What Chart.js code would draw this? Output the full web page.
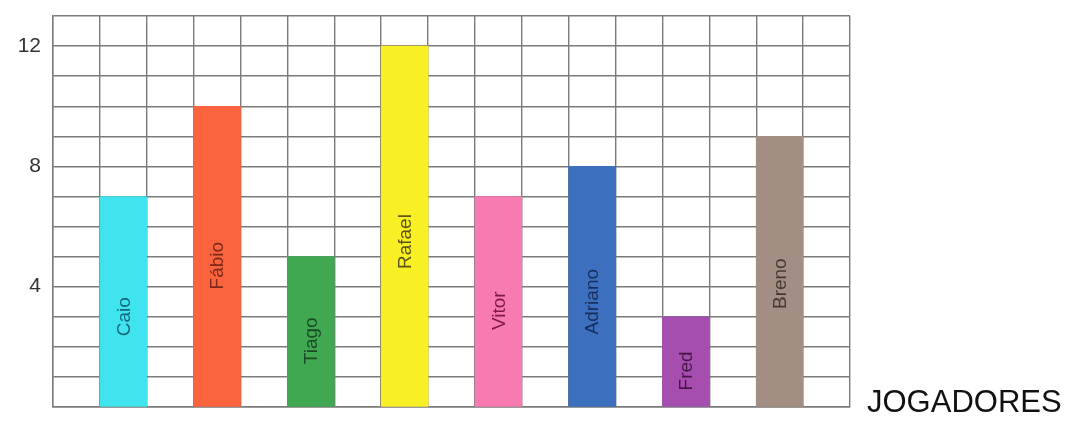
<!DOCTYPE html>
<html>
<head>
<meta charset="utf-8">
<script src="https://cdn.jsdelivr.net/npm/chart.js@4.4.1/dist/chart.umd.min.js"></script>
<style>
  html, body { margin: 0; padding: 0; background: #fff; }
  #wrap { width: 1067px; height: 423px; position: relative; }
</style>
</head>
<body>
<div id="wrap"><canvas id="jogadores-chart"></canvas></div>
<script>
// jogadores e gols
const players = ['Caio', 'Fábio', 'Tiago', 'Rafael', 'Vitor', 'Adriano', 'Fred', 'Breno'];
const goals = [7, 10, 5, 12, 7, 8, 3, 9];
const yTickLabels = [4, 8, 12];

// cores das barras e dos nomes
const barColors = ['#3fe4ee', '#f9643f', '#40a851', '#f8f024', '#f77ab1', '#3d6fbf', '#a64db0', '#a28e82'];
const nameColors = ['#16677c', '#7d2818', '#1d4a26', '#5c5216', '#7c1746', '#182e5c', '#471646', '#463833'];
// altura (em unidades do eixo) do centro de cada nome dentro da barra
const nameCenters = [3.0, 4.7, 2.2, 5.5, 3.2, 3.5, 1.2, 4.1];

// uma coluna vazia antes de cada barra, mais uma no fim
const slots = [];
const slotValues = [];
const slotColors = [];
players.forEach((p, i) => {
  slots.push(''); slotValues.push(null); slotColors.push('transparent');
  slots.push(p); slotValues.push(goals[i]); slotColors.push(barColors[i]);
});
slots.push(''); slotValues.push(null); slotColors.push('transparent');

const namesInBars = {
  id: 'namesInBars',
  afterDatasetsDraw(chart) {
    const ctx = chart.ctx;
    const yScale = chart.scales.y;
    const meta = chart.getDatasetMeta(0);
    let k = 0;
    meta.data.forEach((bar, idx) => {
      if (slotValues[idx] == null) return;
      const y = yScale.getPixelForValue(nameCenters[k]);
      ctx.save();
      ctx.translate(bar.x, y);
      ctx.rotate(-Math.PI / 2);
      ctx.font = '19px "Liberation Sans", Arial, sans-serif';
      ctx.fillStyle = nameColors[k];
      ctx.textAlign = 'center';
      ctx.textBaseline = 'middle';
      ctx.fillText(players[k], 0, 1);
      ctx.restore();
      k++;
    });
  }
};

const sideTitle = {
  id: 'sideTitle',
  afterDraw(chart) {
    const ctx = chart.ctx;
    const area = chart.chartArea;
    ctx.save();
    ctx.font = '31px "Liberation Sans", Arial, sans-serif';
    ctx.fillStyle = '#111';
    ctx.textAlign = 'left';
    ctx.textBaseline = 'alphabetic';
    ctx.fillText('JOGADORES', area.right + 17, area.bottom + 5);
    ctx.restore();
  }
};

const ctx = document.getElementById('jogadores-chart').getContext('2d');

new Chart(ctx, {
  type: 'bar',
  data: {
    labels: slots,
    datasets: [
      {
        label: 'Gols',
        data: slotValues,
        backgroundColor: slotColors,
        borderWidth: 0,
        barPercentage: 1,
        categoryPercentage: 1,
      },
    ],
  },
  options: {
    responsive: true,
    maintainAspectRatio: false,
    animation: false,
    layout: {
      padding: { top: 16, right: 217, bottom: 16, left: 0 },
    },
    plugins: {
      legend: { display: false },
      tooltip: { enabled: false },
    },
    scales: {
      x: {
        grid: {
          color: '#7a7a7a',
          lineWidth: 1.4,
          drawTicks: false,
        },
        border: { color: '#7a7a7a', width: 1.4 },
        ticks: { display: false },
        afterFit: (scale) => { scale.height = 0; },
      },
      y: {
        min: 0,
        max: 13,
        grid: {
          color: '#7a7a7a',
          lineWidth: 1.4,
          drawTicks: false,
        },
        border: { color: '#7a7a7a', width: 1.4 },
        ticks: {
          stepSize: 1,
          padding: 12,
          color: '#333',
          font: { family: '"Liberation Sans", Arial, sans-serif', size: 21 },
          callback: (v) => (yTickLabels.includes(v) ? String(v) : ''),
        },
        afterFit: (scale) => {
          scale.width = 53;
          scale.paddingTop = 0;
          scale.paddingBottom = 0;
        },
      },
    },
  },
  plugins: [namesInBars, sideTitle],
});
</script>
</body>
</html>
